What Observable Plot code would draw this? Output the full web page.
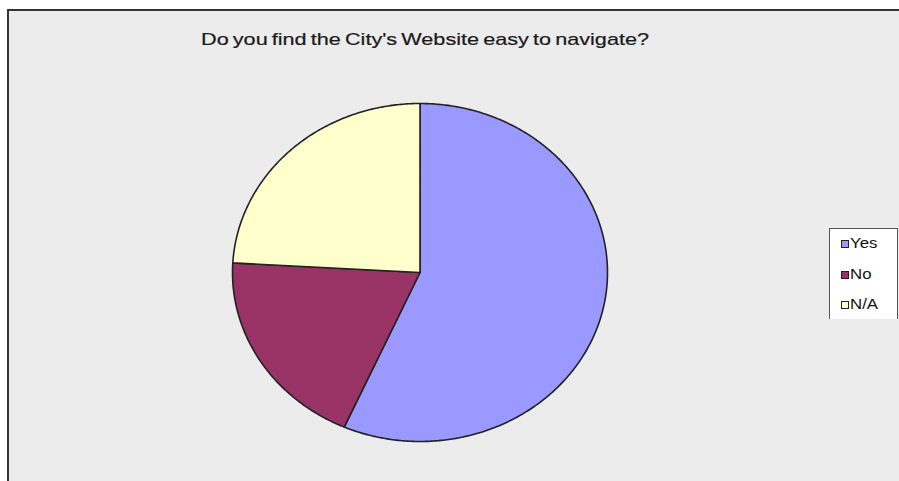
<!DOCTYPE html>
<html><head><meta charset="utf-8">
<script src="https://cdn.jsdelivr.net/npm/d3@7"></script>
<script src="https://cdn.jsdelivr.net/npm/@observablehq/plot@0.6"></script>
<style>
html,body{margin:0;padding:0;background:#fff;width:899px;height:481px;overflow:hidden;font-family:"Liberation Sans",Arial,sans-serif;}
#frame{position:absolute;left:7px;top:9px;width:892px;height:472px;background:#ececec;border-left:2px solid #333;border-top:2px solid #333;}
#chart{position:absolute;left:0;top:0;}
#title{position:absolute;left:201px;top:31.5px;font-size:17px;line-height:16px;color:#1a1a1a;white-space:nowrap;word-spacing:-1.5px;transform-origin:0 0;-webkit-text-stroke:0.2px #1a1a1a;}
#legend{position:absolute;left:829px;top:228px;width:67px;height:90px;background:#fff;border:1px solid #555;border-bottom:none;}
.item{position:absolute;left:11px;height:14px;}
.sw{position:absolute;left:0;top:3px;width:6px;height:6px;border:1px solid #222;}
.lab{position:absolute;left:9px;top:-1px;font-size:14px;line-height:14px;color:#111;white-space:nowrap;transform-origin:0 0;transform:scaleX(1.2);}
</style>
</head><body>
<div id="frame"></div>
<div id="chart"></div>
<div id="title"></div>
<div id="legend"></div>
<script>
const categories = ["Yes", "No", "N/A"];
const counts = [47, 16, 20];
const colors = ["#9999FF", "#993366", "#FFFFCC"];
const titleText = "Do you find the City's Website easy to navigate?";

const arcs = d3.pie().sort(null)(counts);
const pts = [];
arcs.forEach((a, i) => {
  pts.push({cat: categories[i], x: 0, y: 0});
  const n = Math.max(2, Math.ceil((a.endAngle - a.startAngle) / 0.01));
  for (let k = 0; k <= n; k++) {
    const t = a.startAngle + (a.endAngle - a.startAngle) * k / n;
    pts.push({cat: categories[i], x: Math.sin(t), y: Math.cos(t)});
  }
  pts.push({cat: categories[i], x: 0, y: 0});
});

const plot = Plot.plot({
  width: 899, height: 481, margin: 0,
  x: {domain: [-1, 1], range: [232, 607], axis: null},
  y: {domain: [-1, 1], range: [441, 103], axis: null},
  color: {domain: categories, range: colors},
  style: {background: "transparent", overflow: "visible"},
  marks: [
    Plot.line(pts, {x: "x", y: "y", z: "cat", fill: "cat", stroke: "#222", strokeWidth: 1.6, strokeLinejoin: "round"})
  ]
});
document.getElementById("chart").appendChild(plot);

const title = document.getElementById("title");
title.textContent = titleText;
const w = title.getBoundingClientRect().width;
title.style.transform = `scaleX(${448 / w})`;

const legend = document.getElementById("legend");
const centers = [15, 46, 76];
categories.forEach((c, i) => {
  const it = document.createElement("div");
  it.className = "item";
  it.style.top = (centers[i] - 7) + "px";
  const sw = document.createElement("div");
  sw.className = "sw";
  sw.style.background = colors[i];
  const lab = document.createElement("div");
  lab.className = "lab";
  lab.textContent = c;
  it.appendChild(sw); it.appendChild(lab);
  legend.appendChild(it);
});
</script>
</body></html>
